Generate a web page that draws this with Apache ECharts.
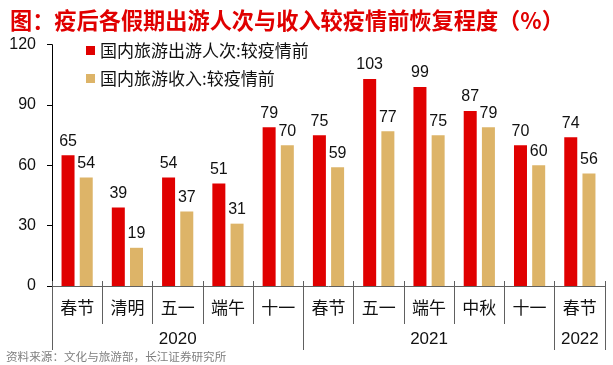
<!DOCTYPE html>
<html>
<head>
<meta charset="utf-8">
<script src="https://cdn.jsdelivr.net/npm/echarts@6/dist/echarts.min.js"></script>
<style>
html,body{margin:0;padding:0;background:#fff;}
#c{width:613px;height:365px;}
</style>
</head>
<body>
<div id="c"></div>
<script>
// ---- data ----
const holidays = ['春节','清明','五一','端午','十一','春节','五一','端午','中秋','十一','春节'];
const years = ['2020','2021','2022'];
const yearSpans = [5, 5, 1];
const tripsRecovery = [65, 39, 54, 51, 79, 75, 103, 99, 87, 70, 74];
const incomeRecovery = [54, 19, 37, 31, 70, 59, 77, 75, 79, 60, 56];
const yTicks = [0, 30, 60, 90, 120];
const seriesNames = ['国内旅游出游人次:较疫情前', '国内旅游收入:较疫情前'];
const titleText = '图：疫后各假期出游人次与收入较疫情前恢复程度（%）';
const sourceText = '资料来源：文化与旅游部，长江证券研究所';

// build year-label slots and boundaries from spans
const yearSlots = holidays.map(() => '');
const yearBounds = new Set();
let start = 0;
yearSpans.forEach((span, i) => {
  yearBounds.add(start);
  yearSlots[start + Math.floor(span / 2)] = years[i];
  start += span;
});

const CJK = '"Noto Sans CJK SC", "Noto Sans", sans-serif';
const LAT = '"Liberation Sans", Arial, sans-serif';
const AXIS_GRAY = '#606060';

const chart = echarts.init(document.getElementById('c'), null, {renderer: 'canvas'});
chart.setOption({
  animation: false,
  backgroundColor: '#fff',
  title: {
    text: titleText,
    left: 5,
    top: 4,
    textStyle: {fontFamily: CJK, fontSize: 22.2, fontWeight: 'bold', color: '#E00000'}
  },
  graphic: [{
    type: 'text',
    left: 6,
    top: 351,
    style: {text: sourceText, font: '11.6px "Noto Sans CJK SC", sans-serif', fill: '#7f7f7f'}
  }],
  legend: {
    orient: 'vertical',
    left: 81,
    top: 37,
    icon: 'rect',
    itemWidth: 9,
    itemHeight: 9,
    itemGap: 11,
    textStyle: {fontFamily: CJK, fontSize: 17, color: '#111'},
    data: seriesNames
  },
  grid: {left: 52, right: 8, top: 44.7, bottom: 79, containLabel: false},
  xAxis: [
    {
      type: 'category',
      data: holidays,
      position: 'bottom',
      axisLine: {show: true, lineStyle: {color: AXIS_GRAY, width: 1}},
      axisTick: {show: true, interval: 0, length: 38, lineStyle: {color: AXIS_GRAY}},
      axisLabel: {interval: 0, margin: 13, fontFamily: CJK, fontSize: 17, color: '#111'}
    },
    {
      type: 'category',
      data: yearSlots,
      position: 'bottom',
      offset: 0,
      axisLine: {show: false},
      axisTick: {show: true, length: 64, lineStyle: {color: AXIS_GRAY},
        interval: function (idx) { return yearBounds.has(idx); }},
      axisLabel: {interval: 0, margin: 45, fontFamily: LAT, fontSize: 17, color: '#111'}
    },
    {
      type: 'category',
      data: holidays,
      position: 'bottom',
      axisLine: {show: false},
      axisTick: {show: true, inside: true, interval: 0, length: 5, lineStyle: {color: AXIS_GRAY}},
      axisLabel: {show: false}
    }
  ],
  yAxis: {
    type: 'value',
    min: yTicks[0],
    max: yTicks[yTicks.length - 1],
    interval: yTicks[1] - yTicks[0],
    axisLine: {show: true, lineStyle: {color: '#000', width: 1}},
    axisTick: {show: true, length: 5, lineStyle: {color: '#000'}},
    splitLine: {show: false},
    axisLabel: {margin: 16, fontFamily: LAT, fontSize: 16, color: '#111'}
  },
  series: [
    {
      name: seriesNames[0],
      type: 'bar',
      data: tripsRecovery,
      barWidth: 13,
      barGap: '40%',
      itemStyle: {color: '#E00000'},
      label: {show: true, position: 'top', distance: 6, fontFamily: LAT, fontSize: 16, color: '#111'}
    },
    {
      name: seriesNames[1],
      type: 'bar',
      data: incomeRecovery,
      barWidth: 13,
      barGap: '40%',
      itemStyle: {color: '#DDB468'},
      label: {show: true, position: 'top', distance: 6, fontFamily: LAT, fontSize: 16, color: '#111'}
    }
  ]
});
</script>
</body>
</html>
